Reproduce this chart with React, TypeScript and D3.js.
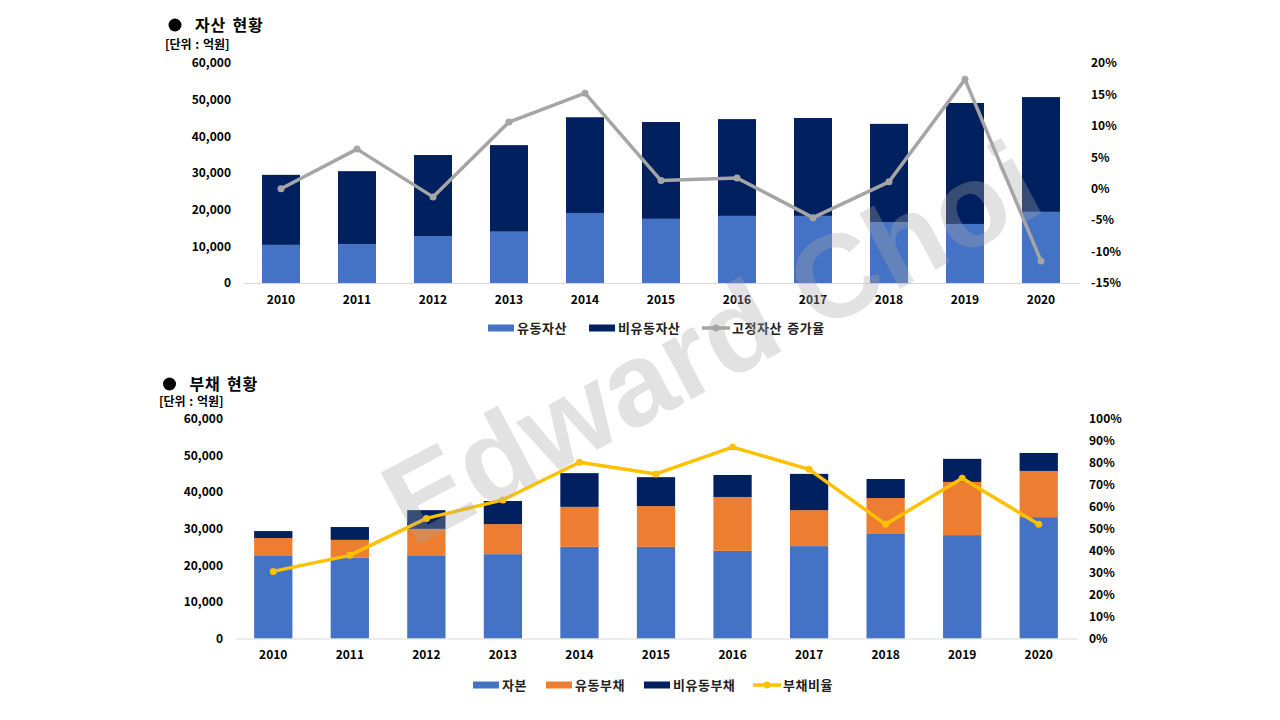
import React, { useRef, useEffect } from 'react';
import * as d3 from 'd3';

const years = ['2010', '2011', '2012', '2013', '2014', '2015', '2016', '2017', '2018', '2019', '2020'];

// 자산 현황 (억원)
const currentAssets = [10400, 10600, 12800, 14000, 19100, 17500, 18300, 18300, 16600, 16100, 19400];
const nonCurrentAssets = [19100, 19900, 22100, 23600, 26100, 26400, 26400, 26700, 26800, 33000, 31300];
const fixedAssetGrowth = [0.0, 6.3, -1.3, 10.6, 15.2, 1.3, 1.7, -4.6, 1.1, 17.4, -11.5];

// 부채 현황 (억원)
const capital = [22500, 22000, 22500, 23000, 25000, 25000, 23900, 25200, 28500, 28200, 33100];
const currentLiabilities = [4900, 4900, 7400, 8200, 10900, 11100, 14700, 9800, 9800, 14500, 12600];
const nonCurrentLiabilities = [1900, 3500, 5100, 6300, 9200, 7900, 6000, 9900, 5200, 6300, 4900];
const debtRatio = [30.5, 37.8, 54.6, 63.0, 80.1, 74.8, 87.0, 76.9, 51.9, 72.8, 51.9];

const leftTicks = [0, 10000, 20000, 30000, 40000, 50000, 60000];
const growthTicks = [-15, -10, -5, 0, 5, 10, 15, 20];
const ratioTicks = [0, 10, 20, 30, 40, 50, 60, 70, 80, 90, 100];

const FONT = '"Noto Sans CJK KR", "Noto Sans", sans-serif';

type Series = { name: string; values: number[]; color: string };

type PanelOpts = {
    top: number;
    bottom: number;
    left: number;
    right: number;
    title: string;
    titleX: number;
    titleY: number;
    unitX: number;
    unitY: number;
    stacks: Series[];
    line: Series;
    lineDomain: [number, number];
    lineTicks: number[];
    legendY: number;
    legendX: number[];
};

const App: React.FC = () => {
    const ref = useRef<SVGSVGElement | null>(null);

    useEffect(() => {
        const svg = d3.select(ref.current);
        svg.selectAll('*').remove();

        const drawPanel = (o: PanelOpts) => {
            const g = svg.append('g');

            const x = d3.scaleBand<string>().domain(years).range([o.left, o.right]).paddingInner(0.5).paddingOuter(0.25);
            const y = d3.scaleLinear().domain([0, 60000]).range([o.bottom, o.top]);
            const yR = d3.scaleLinear().domain(o.lineDomain).range([o.bottom, o.top]);

            // title
            g.append('circle').attr('cx', o.titleX).attr('cy', o.titleY).attr('r', 6.5).attr('fill', '#000');
            g.append('text')
                .attr('x', o.titleX + 20)
                .attr('y', o.titleY)
                .attr('dy', '0.35em')
                .style('font-family', FONT)
                .style('font-size', '16px')
                .style('font-weight', 'bold')
                .style('letter-spacing', '0.8px')
                .style('word-spacing', '2px')
                .text(o.title);
            g.append('text')
                .attr('x', o.unitX)
                .attr('y', o.unitY)
                .attr('dy', '0.35em')
                .style('font-family', FONT)
                .style('font-size', '12px')
                .style('font-weight', 'bold')
                .style('word-spacing', '1px')
                .text('[단위 : 억원]');

            // stacked bars
            const rows = years.map((yr, i) => {
                const r: Record<string, number | string> = { year: yr };
                o.stacks.forEach((s) => (r[s.name] = s.values[i]));
                return r;
            });
            const stacked = d3.stack<Record<string, number | string>>().keys(o.stacks.map((s) => s.name))(rows);

            g.selectAll('g.layer')
                .data(stacked)
                .enter()
                .append('g')
                .attr('fill', (_d, i) => o.stacks[i].color)
                .selectAll('rect')
                .data((d) => d)
                .enter()
                .append('rect')
                .attr('x', (d) => x(d.data.year as string) as number)
                .attr('width', x.bandwidth())
                .attr('y', (d) => y(d[1]))
                .attr('height', (d) => y(d[0]) - y(d[1]));

            // axes
            const axisText = (sel: d3.Selection<SVGGElement, unknown, null, undefined>) => {
                sel.selectAll('text')
                    .style('font-family', FONT)
                    .style('font-size', '12px')
                    .style('font-weight', 'bold')
                    .attr('fill', '#000');
            };

            const gx = g.append('g')
                .attr('transform', `translate(0,${o.bottom})`)
                .call(d3.axisBottom(x).tickSize(0).tickSizeOuter(0).tickPadding(12));
            gx.select('.domain').attr('stroke', '#D9D9D9');
            axisText(gx as any);

            const gl = g.append('g')
                .attr('transform', `translate(${o.left},0)`)
                .call(d3.axisLeft(y).tickValues(leftTicks).tickFormat(d3.format(',') as any).tickSize(0).tickPadding(12));
            gl.select('.domain').remove();
            axisText(gl as any);

            const gr = g.append('g')
                .attr('transform', `translate(${o.right},0)`)
                .call(d3.axisRight(yR).tickValues(o.lineTicks).tickFormat((d) => `${d}%`).tickSize(0).tickPadding(12));
            gr.select('.domain').remove();
            axisText(gr as any);

            // line
            const cx = (i: number) => (x(years[i]) as number) + x.bandwidth() / 2;
            const line = d3.line<number>().x((_d, i) => cx(i)).y((d) => yR(d));
            g.append('path')
                .datum(o.line.values)
                .attr('d', line)
                .attr('fill', 'none')
                .attr('stroke', o.line.color)
                .attr('stroke-width', 3.5)
                .attr('stroke-linejoin', 'round');
            g.selectAll('circle.pt')
                .data(o.line.values)
                .enter()
                .append('circle')
                .attr('cx', (_d, i) => cx(i))
                .attr('cy', (d) => yR(d))
                .attr('r', 3.5)
                .attr('fill', o.line.color);

            // legend
            const items = [...o.stacks, o.line];
            items.forEach((s, i) => {
                const lx = o.legendX[i];
                if (i < o.stacks.length) {
                    g.append('rect').attr('x', lx).attr('y', o.legendY - 3.5).attr('width', 26).attr('height', 7).attr('fill', s.color);
                } else {
                    g.append('line')
                        .attr('x1', lx).attr('x2', lx + 28)
                        .attr('y1', o.legendY).attr('y2', o.legendY)
                        .attr('stroke', s.color).attr('stroke-width', 3.5);
                    g.append('circle').attr('cx', lx + 14).attr('cy', o.legendY).attr('r', 3.5).attr('fill', s.color);
                }
                g.append('text')
                    .attr('x', lx + (i < o.stacks.length ? 29 : 30))
                    .attr('y', o.legendY)
                    .attr('dy', '0.35em')
                    .style('font-family', FONT)
                    .style('font-size', '13px')
                    .style('font-weight', 'bold')
                    .style('letter-spacing', '0.5px')
                    .style('word-spacing', '2px')
                    .attr('fill', '#222')
                    .text(s.name);
            });
        };

        drawPanel({
            top: 63,
            bottom: 283,
            left: 243,
            right: 1079,
            title: '자산 현황',
            titleX: 175,
            titleY: 25,
            unitX: 165,
            unitY: 45,
            stacks: [
                { name: '유동자산', values: currentAssets, color: '#4472C4' },
                { name: '비유동자산', values: nonCurrentAssets, color: '#002060' },
            ],
            line: { name: '고정자산 증가율', values: fixedAssetGrowth, color: '#A5A5A5' },
            lineDomain: [-15, 20],
            lineTicks: growthTicks,
            legendY: 328,
            legendX: [488, 589, 702],
        });

        drawPanel({
            top: 418.5,
            bottom: 638.5,
            left: 235,
            right: 1077,
            title: '부채 현황',
            titleX: 169.5,
            titleY: 384,
            unitX: 159,
            unitY: 402,
            stacks: [
                { name: '자본', values: capital, color: '#4472C4' },
                { name: '유동부채', values: currentLiabilities, color: '#ED7D31' },
                { name: '비유동부채', values: nonCurrentLiabilities, color: '#002060' },
            ],
            line: { name: '부채비율', values: debtRatio, color: '#FFC000' },
            lineDomain: [0, 100],
            lineTicks: ratioTicks,
            legendY: 685,
            legendX: [473, 546, 644, 753],
        });

        // watermark
        svg.append('text')
            .attr('transform', 'translate(412,548) rotate(-28)')
            .style('font-family', '"Liberation Sans", Arial, sans-serif')
            .style('font-size', '118px')
            .style('font-weight', 'bold')
            .attr('fill', '#A6A6A6')
            .attr('fill-opacity', 0.33)
            .text('Edward Choi');
    }, []);

    return (
        <svg
            ref={ref}
            width={1280}
            height={720}
            style={{ position: 'absolute', left: 0, top: 0, background: '#fff' }}
        />
    );
};

export default App;
